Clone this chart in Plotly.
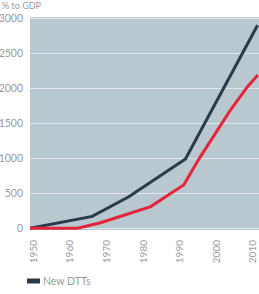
import plotly.graph_objects as go

# Data
dtt_years = [1949, 1966, 1976, 1991.5, 2011.2]
dtt_values = [0, 170, 450, 990, 2900]

gdp_years = [1949, 1962, 1968.3, 1982, 1991, 1995.6, 2003.8, 2008.4, 2011.3]
gdp_values = [0, 0, 80, 310, 620, 1025, 1690, 2020, 2190]

x_ticks = [1950, 1960, 1970, 1980, 1990, 2000, 2010]
y_ticks = [0, 500, 1000, 1500, 2000, 2500, 3000]

legend_label = "New DTTs"
y_title = "% to GDP"

DARK = "#2b3948"
RED = "#e3243b"
GREY_TXT = "#9a9a9a"
FONT = "Lato"

fig = go.Figure()
fig.add_trace(go.Scatter(x=dtt_years, y=dtt_values, mode="lines",
                         line=dict(color=DARK, width=3), showlegend=False))
fig.add_trace(go.Scatter(x=gdp_years, y=gdp_values, mode="lines",
                         line=dict(color=RED, width=3), showlegend=False))

fig.update_layout(
    width=259, height=294,
    margin=dict(l=30, r=0, t=17, b=64),
    paper_bgcolor="white",
    plot_bgcolor="#b9c7cf",
    font=dict(family=FONT, size=10.5, color=GREY_TXT),
    showlegend=False,
    xaxis=dict(range=[1949, 2011.6], tickvals=x_ticks,
               ticktext=[str(v) for v in x_ticks], tickangle=-90,
               showgrid=False, zeroline=False, ticks="", ticklabelstandoff=7,
               tickfont=dict(size=10, color=GREY_TXT, family=FONT)),
    yaxis=dict(range=[-24, 3019], tickvals=y_ticks,
               ticktext=[str(v) for v in y_ticks],
               showgrid=True, gridcolor="#dfe7eb", gridwidth=1,
               zeroline=False, ticks="", ticklabelstandoff=6,
               tickfont=dict(size=10.5, color=GREY_TXT, family=FONT)),
)

# Title annotation
fig.add_annotation(text=y_title, xref="paper", yref="paper", x=-30/229, y=1 + 18.5/213,
                   xanchor="left", yanchor="top", showarrow=False,
                   font=dict(size=9, color=GREY_TXT, family=FONT))

# Legend swatch + label
fig.add_shape(type="rect", xref="paper", yref="paper",
              x0=-3/229, x1=10/229, y0=-(278.5-230)/213, y1=-(283.5-230)/213,
              fillcolor=DARK, line=dict(width=0))
fig.add_annotation(text=legend_label, xref="paper", yref="paper", x=11/229, y=-(281-230)/213,
                   xanchor="left", yanchor="middle", showarrow=False,
                   font=dict(size=10.5, color=GREY_TXT, family=FONT))

fig.write_html("out.html")
